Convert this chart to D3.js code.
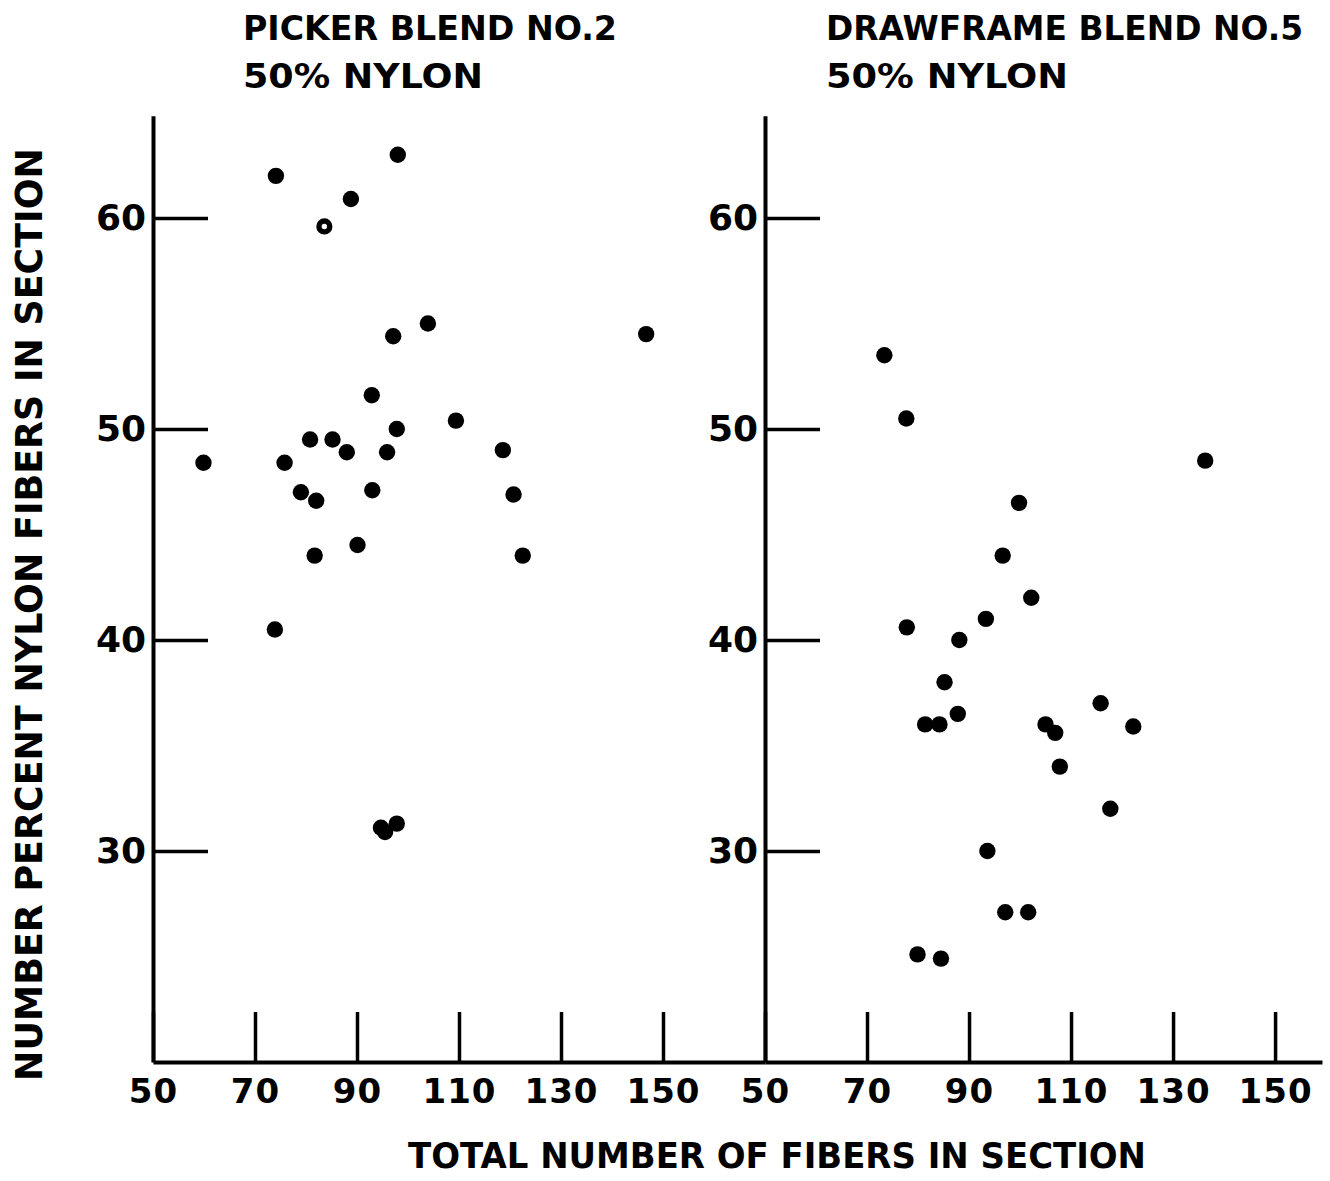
<!DOCTYPE html>
<html>
<head>
<meta charset="utf-8">
<script src="https://cdn.jsdelivr.net/npm/d3@7"></script>
<style>
  body { margin: 0; background: #fff; }
  svg { display: block; }
</style>
</head>
<body>
<svg id="chart" width="1330" height="1181"></svg>
<script>
var xTicks = [50, 70, 90, 110, 130, 150];
var yTicks = [30, 40, 50, 60];

// picker blend no.2 (left panel)
var pickerX = [59.9, 74.1, 98.0, 88.8, 83.6, 97.1, 103.9, 146.7, 92.9, 109.4, 97.8, 80.8, 85.2, 88.0,
  95.9, 118.6, 75.8, 79.0, 82.0, 93.0, 120.7, 81.7, 90.1, 122.5, 73.9, 94.7, 95.5, 97.8];
var pickerY = [48.4, 62.0, 63.0, 60.9, 59.6, 54.4, 55.0, 54.5, 51.6, 50.4, 50.0, 49.5, 49.5, 48.9,
  48.9, 49.0, 48.4, 47.0, 46.6, 47.1, 46.9, 44.0, 44.5, 44.0, 40.5, 31.1, 30.9, 31.3];
var pickerOpen = [4];   // the one ringed point near 60

// drawframe blend no.5 (right panel)
var drawX = [73.4, 77.7, 136.3, 99.8, 96.6, 102.2, 77.8, 93.3, 88.1, 85.2, 87.8, 81.4, 84.2, 105.0,
  106.9, 115.8, 122.2, 107.8, 117.7, 93.6, 97.1, 101.6, 79.9, 84.5];
var drawY = [53.5, 50.5, 48.5, 46.5, 44.0, 42.0, 40.6, 41.0, 40.0, 38.0, 36.5, 36.0, 36.0, 36.0,
  35.6, 37.0, 35.9, 34.0, 32.0, 30.0, 27.1, 27.1, 25.1, 24.9];

var font = "'DejaVu Sans', 'Liberation Sans', sans-serif";
var svg = d3.select("#chart");

var y = d3.scaleLinear().domain([20, 64.85]).range([1062, 115.7]);
var xLeft = d3.scaleLinear().domain([50, 170]).range([153, 765]);
var xRight = d3.scaleLinear().domain([50, 159.2]).range([765, 1322]);

function drawPanel(x, xs, ys, openIdx) {
  var g = svg.append("g");

  var xa = g.append("g")
    .attr("transform", "translate(0," + y(20) + ")")
    .call(d3.axisBottom(x).tickValues(xTicks).tickSize(-50).tickSizeOuter(0).tickPadding(17));
  xa.select(".domain").attr("stroke-width", 4);
  xa.selectAll(".tick line").attr("stroke-width", 3.5);
  xa.selectAll(".tick text")
    .attr("font-family", font).attr("font-weight", "bold").attr("font-size", 34)
    .attr("letter-spacing", 1).attr("fill", "#000");

  var ya = g.append("g")
    .attr("transform", "translate(" + x(50) + ",0)")
    .call(d3.axisLeft(y).tickValues(yTicks).tickSize(-55).tickSizeOuter(0).tickPadding(7));
  ya.select(".domain").attr("stroke-width", 4);
  ya.selectAll(".tick line").attr("stroke-width", 3.5);
  ya.selectAll(".tick text")
    .attr("font-family", font).attr("font-weight", "bold").attr("font-size", 36).attr("fill", "#000");

  var pts = xs.map(function (v, i) { return { x: v, y: ys[i], open: openIdx.indexOf(i) >= 0 }; });
  g.selectAll(".dot")
    .data(pts)
    .enter()
    .append("circle")
    .attr("cx", function (d) { return x(d.x); })
    .attr("cy", function (d) { return y(d.y); })
    .attr("r", function (d) { return d.open ? 5.4 : 8.2; })
    .attr("fill", function (d) { return d.open ? "#fff" : "#000"; })
    .attr("stroke", "#000")
    .attr("stroke-width", function (d) { return d.open ? 5.4 : 0; });
}

drawPanel(xLeft, pickerX, pickerY, pickerOpen);
drawPanel(xRight, drawX, drawY, []);

function label(txt, x, yy, size, len) {
  svg.append("text")
    .attr("x", x).attr("y", yy)
    .attr("font-family", font).attr("font-weight", "bold").attr("font-size", size)
    .attr("textLength", len).attr("lengthAdjust", "spacingAndGlyphs")
    .text(txt);
}

label("PICKER  BLEND  NO.2", 243, 40, 34, 374);
label("50%  NYLON", 243, 88, 34, 240);
label("DRAWFRAME  BLEND  NO.5", 826, 40, 34, 477);
label("50%  NYLON", 826, 88, 34, 242);
label("TOTAL  NUMBER  OF  FIBERS  IN  SECTION", 408, 1168, 36, 738);

svg.append("text")
  .attr("transform", "translate(42,1081) rotate(-90)")
  .attr("font-family", font).attr("font-weight", "bold").attr("font-size", 38)
  .attr("textLength", 933).attr("lengthAdjust", "spacingAndGlyphs")
  .text("NUMBER  PERCENT  NYLON  FIBERS  IN  SECTION");
</script>
</body>
</html>
